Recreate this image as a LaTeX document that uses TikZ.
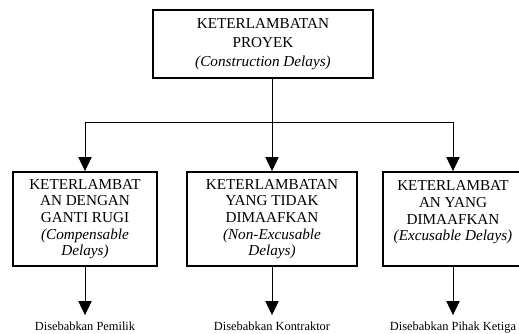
\documentclass[tikz,border=0pt]{standalone}
\usepackage{fontspec}
\setmainfont{Liberation Serif}
\usetikzlibrary{arrows.meta}
\tikzset{
  box/.style={draw, line width=1.4pt, align=center, inner sep=0pt,
    font=\fontsize{11.4}{12.5}\selectfont},
  arr/.style={-{Triangle[width=10pt,length=10.5pt]}, line width=0.6pt},
  cause/.style={font=\fontsize{9.3}{11}\selectfont, inner sep=0pt,
    text height=6.5pt, anchor=base}
}
\begin{document}
\begin{tikzpicture}[x=0.75pt,y=-0.75pt]
                \useasboundingbox (0,0) rectangle (519,333);

                \node[box, minimum width=165pt, minimum height=51pt, font=\fontsize{11.4}{14.25}\selectfont] at (263,44) (delay) {KETERLAMBATAN\\PROYEK\\\textit{(Construction Delays)}};

                \node[box, minimum width=108pt, minimum height=70.5pt] at (85,219) (comp) {KETERLAMBAT\\AN DENGAN\\GANTI RUGI\\\textit{(Compensable}\\\textit{Delays)}};
                \node[box, minimum width=127.5pt, minimum height=70.5pt] at (272,219) (nonexc) {KETERLAMBATAN\\YANG TIDAK\\DIMAAFKAN\\\textit{(Non-Excusable}\\\textit{Delays)}};
                \node[box, minimum width=105pt, minimum height=70.5pt] at (453,219) (exc) {KETERLAMBAT\\AN YANG\\DIMAAFKAN\\\textit{(Excusable Delays)}\\\mbox{}};

                \node[cause] at (85,330) (owner) {Disebabkan Pemilik};
                \node[cause] at (272,330) (contr) {Disebabkan Kontraktor};
                \node[cause] at (453,330) (third) {Disebabkan Pihak Ketiga};

                \coordinate (split) at (272,122);

                \draw[line width=0.6pt] (delay.south -| split) -- (split);
                \draw[arr] (split) -| (comp.north);
                \draw[arr] (split) -- (nonexc.north);
                \draw[arr] (split) -| (exc.north);

                \draw[arr, shorten >=4.5pt] (comp.south) -- (owner.north);
                \draw[arr, shorten >=4.5pt] (nonexc.south) -- (contr.north);
                \draw[arr, shorten >=4.5pt] (exc.south) -- (third.north);

\end{tikzpicture}
\end{document}
